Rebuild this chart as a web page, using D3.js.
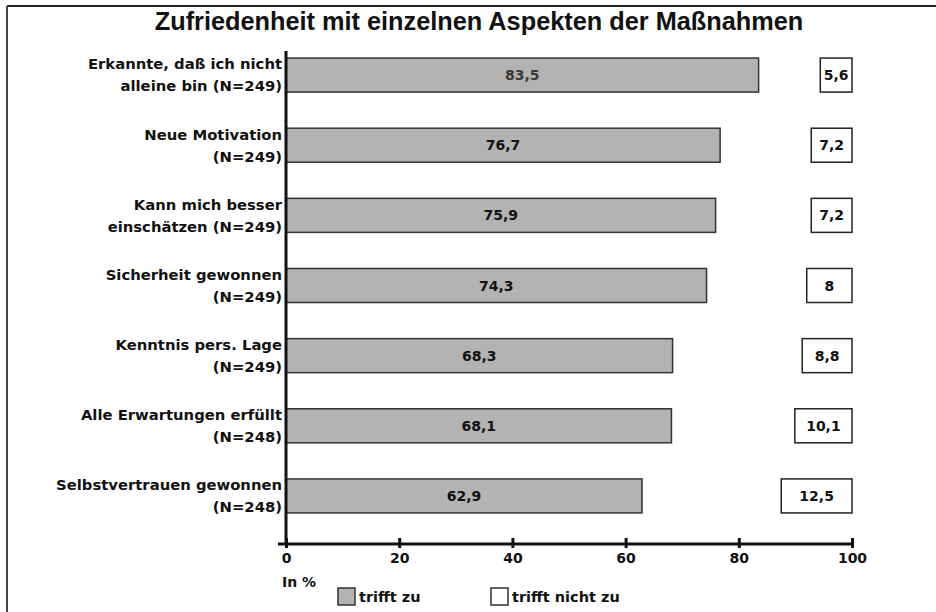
<html>
<head>
<meta charset="utf-8">
<script src="https://d3js.org/d3.v7.min.js"></script>
<style>
  body { margin: 0; background: #fff; }
  text { font-family: "DejaVu Sans", sans-serif; font-weight: bold; }
</style>
</head>
<body>
<div id="chart"></div>
<script>

// data
var labelsTop = ["Erkannte, daß ich nicht", "Neue Motivation", "Kann mich besser",
                 "Sicherheit gewonnen", "Kenntnis pers. Lage", "Alle Erwartungen erfüllt",
                 "Selbstvertrauen gewonnen"];
var labelsBottom = ["alleine bin (N=249)", "(N=249)", "einschätzen (N=249)",
                    "(N=249)", "(N=249)", "(N=248)", "(N=248)"];
var trifftZu = [83.5, 76.7, 75.9, 74.3, 68.3, 68.1, 62.9];
var trifftNichtZu = [5.6, 7.2, 7.2, 8, 8.8, 10.1, 12.5];
var xTicks = [0, 20, 40, 60, 80, 100];

var W = 936, H = 612;
var fmt = function(v) { return String(v).replace(".", ","); };

var svg = d3.select("#chart").append("svg")
    .attr("width", W).attr("height", H);

// frame (top + left only visible)
svg.append("line").attr("x1", 7).attr("x2", W).attr("y1", 6).attr("y2", 6)
    .attr("stroke", "#222").attr("stroke-width", 2);
svg.append("line").attr("x1", 7).attr("x2", 7).attr("y1", 6).attr("y2", H)
    .attr("stroke", "#444").attr("stroke-width", 2);

// title
svg.append("text")
    .attr("x", 479).attr("y", 30)
    .attr("text-anchor", "middle")
    .style("font-family", "'Liberation Sans', Arial, sans-serif")
    .style("font-size", "25.3px")
    .attr("fill", "#111")
    .text("Zufriedenheit mit einzelnen Aspekten der Maßnahmen");

var x = d3.scaleLinear().domain([0, 100]).range([286, 852]);
var idx = d3.range(trifftZu.length);
var y = d3.scaleBand().domain(idx).range([40, 531])
    .paddingInner(0.515).paddingOuter(0.2575);

// gray bars
svg.append("g").selectAll("rect")
    .data(idx).enter().append("rect")
    .attr("x", x(0))
    .attr("y", function(i) { return y(i); })
    .attr("width", function(i) { return x(trifftZu[i]) - x(0); })
    .attr("height", y.bandwidth())
    .attr("fill", "#b3b3b3")
    .attr("stroke", "#333").attr("stroke-width", 1.5);

svg.append("g").selectAll("text")
    .data(idx).enter().append("text")
    .attr("x", function(i) { return (x(0) + x(trifftZu[i])) / 2; })
    .attr("y", function(i) { return y(i) + y.bandwidth() / 2; })
    .attr("dy", "0.36em")
    .attr("text-anchor", "middle")
    .attr("fill", function(i) { return i == 0 ? "#3a3a3a" : "#111"; })
    .style("font-size", "14px")
    .text(function(i) { return fmt(trifftZu[i]); });

// white boxes ending at 100
svg.append("g").selectAll("rect")
    .data(idx).enter().append("rect")
    .attr("x", function(i) { return x(100 - trifftNichtZu[i]); })
    .attr("y", function(i) { return y(i); })
    .attr("width", function(i) { return x(100) - x(100 - trifftNichtZu[i]); })
    .attr("height", y.bandwidth())
    .attr("fill", "#fff")
    .attr("stroke", "#222").attr("stroke-width", 1.5);

svg.append("g").selectAll("text")
    .data(idx).enter().append("text")
    .attr("x", function(i) { return x(100 - trifftNichtZu[i] / 2); })
    .attr("y", function(i) { return y(i) + y.bandwidth() / 2; })
    .attr("dy", "0.36em")
    .attr("text-anchor", "middle")
    .attr("fill", "#111")
    .style("font-size", "14px")
    .text(function(i) { return fmt(trifftNichtZu[i]); });

// category labels
var lab = svg.append("g").selectAll("text")
    .data(idx).enter().append("text")
    .attr("text-anchor", "end")
    .style("font-size", "14.8px")
    .attr("fill", "#111");
lab.append("tspan")
    .attr("x", 282)
    .attr("y", function(i) { return y(i) + y.bandwidth() / 2 - 11; })
    .attr("dy", "0.36em")
    .text(function(i) { return labelsTop[i]; });
lab.append("tspan")
    .attr("x", 282)
    .attr("y", function(i) { return y(i) + y.bandwidth() / 2 + 11; })
    .attr("dy", "0.36em")
    .text(function(i) { return labelsBottom[i]; });

// axes
var axisY = 544;
svg.append("line").attr("x1", x(0)).attr("x2", x(0)).attr("y1", 51).attr("y2", axisY)
    .attr("stroke", "#111").attr("stroke-width", 3);

var xAxis = svg.append("g")
    .attr("transform", "translate(0," + axisY + ")")
    .call(d3.axisBottom(x).tickValues(xTicks).tickSize(0).tickPadding(9));
xAxis.select(".domain").remove();
xAxis.append("line").attr("x1", 278).attr("x2", x(100)).attr("stroke", "#111").attr("stroke-width", 3);
xAxis.selectAll(".tick line")
    .attr("y1", -6).attr("y2", 4).attr("stroke", "#111").attr("stroke-width", 3);
xAxis.selectAll(".tick text")
    .style("font-family", "'DejaVu Sans', sans-serif")
    .style("font-weight", "bold")
    .style("font-size", "14px")
    .attr("fill", "#111");

svg.append("text").attr("x", 282).attr("y", 587)
    .style("font-size", "14px").attr("fill", "#111").text("In %");

// legend
var legend = [{ label: "trifft zu", fill: "#b3b3b3", x: 338 },
              { label: "trifft nicht zu", fill: "#fff", x: 491 }];
var lg = svg.append("g").selectAll("g").data(legend).enter().append("g");
lg.append("rect")
    .attr("x", function(d) { return d.x; }).attr("y", 588)
    .attr("width", 17).attr("height", 17)
    .attr("fill", function(d) { return d.fill; })
    .attr("stroke", "#333").attr("stroke-width", 1.5);
lg.append("text")
    .attr("x", function(d) { return d.x + 21; }).attr("y", 597)
    .attr("dy", "0.36em")
    .style("font-size", "14.5px").attr("fill", "#111")
    .text(function(d) { return d.label; });

</script>
</body>
</html>
